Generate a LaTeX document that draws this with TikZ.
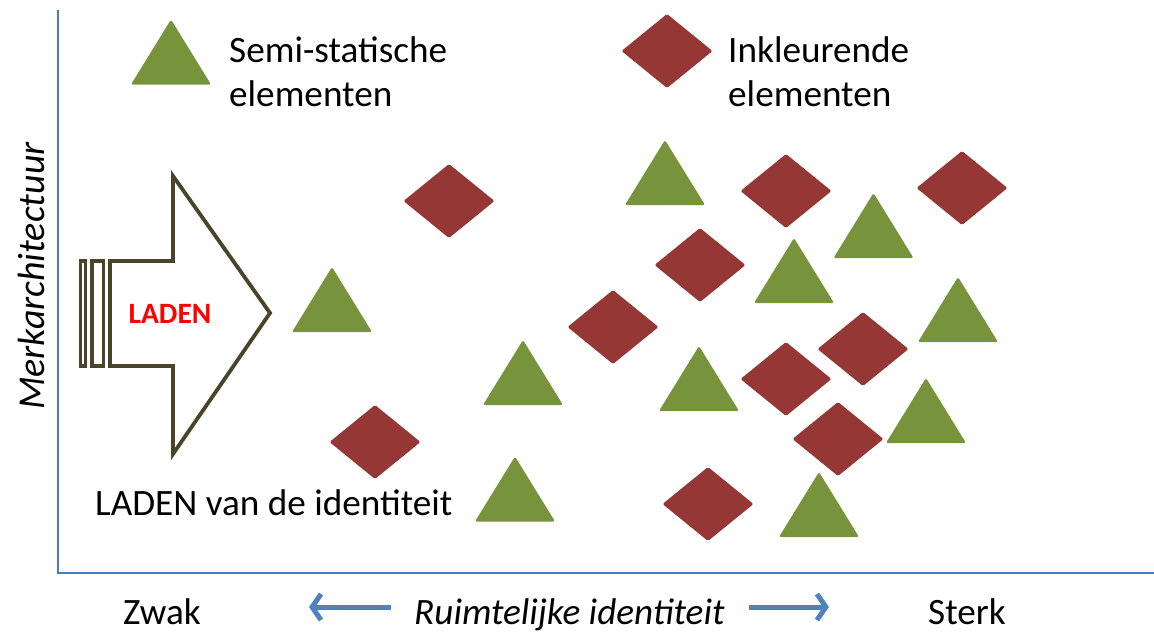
\documentclass[tikz,border=0pt]{standalone}
\usepackage{fontspec}
\setmainfont{Carlito}
\usetikzlibrary{arrows.meta}
\definecolor{triGreen}{HTML}{77933C}
\definecolor{diaRed}{HTML}{953735}
\definecolor{arrowOlive}{HTML}{4A452A}
\definecolor{axisBlue}{HTML}{4A7EBB}
\definecolor{labelBlue}{HTML}{4F81BD}
\begin{document}
\begin{tikzpicture}[x=1pt,y=-1pt,
  tri/.pic={\fill[triGreen,rounded corners=1.5] (-40,32.5) -- (0,-32.5) -- (40,32.5) -- cycle;},
  dia/.pic={\fill[diaRed,rounded corners=1.5] (-45.5,0) -- (0,-37) -- (45.5,0) -- (0,37) -- cycle;},
  txt/.style={inner sep=0pt,font=\fontsize{37.2}{44}\selectfont},
  outline/.style={draw=arrowOlive,line width=3.8,line join=miter},
  axis/.style={draw=axisBlue,line width=2},
  dirarrow/.style={draw=labelBlue,line width=5,-{Straight Barb[length=9,width=26,line width=5]}}
]
\useasboundingbox (0,0) rectangle (1154,632);

% axes
\coordinate (ytop) at (58,10);
\coordinate (origin) at (58,573);
\coordinate (xend) at (1154,573);
\draw[axis] (ytop) -- (origin) -- (xend);

% legend
\pic at (171,52) {tri};
\pic at (667,51) {dia};
\node[txt,anchor=base west] (semi1) at (229,62) {Semi-statische};
\node[txt,anchor=base west] (semi2) at (229,106) {elementen};
\node[txt,anchor=base west] (ink1) at (728,62) {Inkleurende};
\node[txt,anchor=base west] (ink2) at (728,106) {elementen};

% striped arrow
\draw[outline] (110,261) -- (173,261) -- (173,176) -- (270,313) -- (173,454) -- (173,366) -- (110,366) -- cycle;
\draw[outline,line width=3.4] (80.5,261) rectangle (85.5,366);
\draw[outline,line width=3.4] (92,261) rectangle (103.5,366);
\node[inner sep=0pt,text=red,font=\fontsize{29.5}{32}\selectfont\bfseries] (laden) at (170,314) {LADEN};
\node[txt,anchor=base west] (ladenlabel) at (95,515) {LADEN van de identiteit};

% semi-static elements
\foreach \p in {(665,172.5),(873.5,225.5),(794,270.5),(332,299.5),(958,309.5),
                (523,372.5),(699,378.5),(926,410.5),(515,489),(819,504.5)}
  \pic at \p {tri};

% colouring elements
\foreach \p in {(449,201),(786,191),(962,188),(700,265),(613,327),
                (863,349),(786,379),(375,442),(838,439),(708,504)}
  \pic at \p {dia};

% axis titles
\node[txt,anchor=base,rotate=90,font=\fontsize{38}{44}\selectfont\itshape] (yname) at (44,276) {Merkarchitectuur};
\node[txt,anchor=base west] (weak) at (123,624) {Zwak};
\node[txt,anchor=base west] (strong) at (928,624) {Sterk};
\node[txt,anchor=base west,font=\fontsize{37.2}{44}\selectfont\itshape] (xname) at (414,624) {Ruimtelijke identiteit};
\coordinate (lefttip) at (309,607);
\coordinate (righttip) at (829,607);
\draw[dirarrow] (xname.west |- lefttip) ++(-23,0) -- (lefttip);
\draw[dirarrow] (xname.east |- righttip) ++(24,0) -- (righttip);
\end{tikzpicture}
\end{document}
